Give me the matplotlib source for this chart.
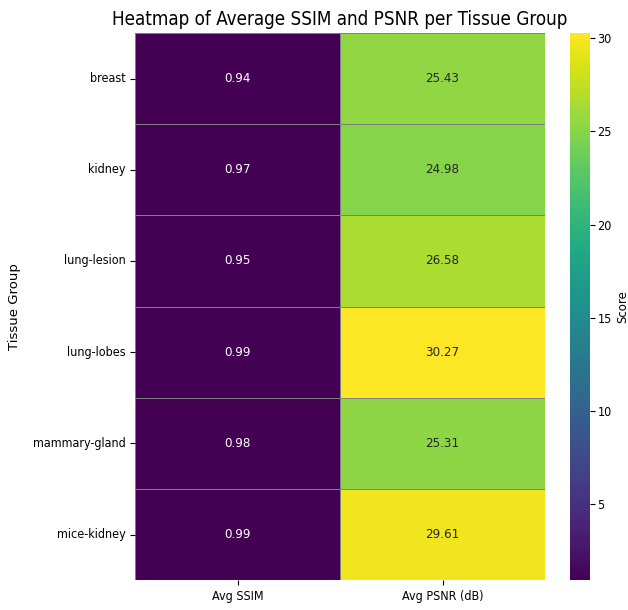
import matplotlib
matplotlib.use("Agg")
import matplotlib.pyplot as plt
import seaborn as sns
import pandas as pd

tissues = ["breast", "kidney", "lung-lesion", "lung-lobes", "mammary-gland", "mice-kidney"]
columns = ["Avg SSIM", "Avg PSNR (dB)"]
avg_ssim = [0.94, 0.97, 0.95, 0.99, 0.98, 0.99]
avg_psnr = [25.43, 24.98, 26.58, 30.27, 25.31, 29.61]

plt.rcParams["font.stretch"] = "condensed"

df = pd.DataFrame({columns[0]: avg_ssim, columns[1]: avg_psnr}, index=tissues)

fig = plt.figure(figsize=(6.28, 6.10), dpi=100)
ax = fig.add_axes([0.215, 0.049, 0.653, 0.897])
cax = fig.add_axes([0.907, 0.049, 0.032, 0.897])

sns.heatmap(df, annot=True, fmt=".2f", cmap="viridis", linewidths=0.5,
            linecolor="gray", ax=ax, cbar_ax=cax,
            cbar_kws={"label": "Score"}, annot_kws={"fontsize": 9.5})

ax.set_title("Heatmap of Average SSIM and PSNR per Tissue Group", fontsize=13.5)
ax.set_ylabel("Tissue Group", fontsize=9.5, fontstretch="normal", labelpad=8)
ax.set_xlabel("")
ax.tick_params(axis="both", labelsize=9)
plt.setp(ax.get_yticklabels(), rotation=0)
plt.setp(ax.get_xticklabels(), rotation=0)
cax.tick_params(labelsize=9, pad=2)
cax.set_ylabel("Score", fontsize=8.5, fontstretch="normal")
cax.yaxis.set_label_coords(2.3, 0.5)

fig.savefig("out.png", dpi=100)
